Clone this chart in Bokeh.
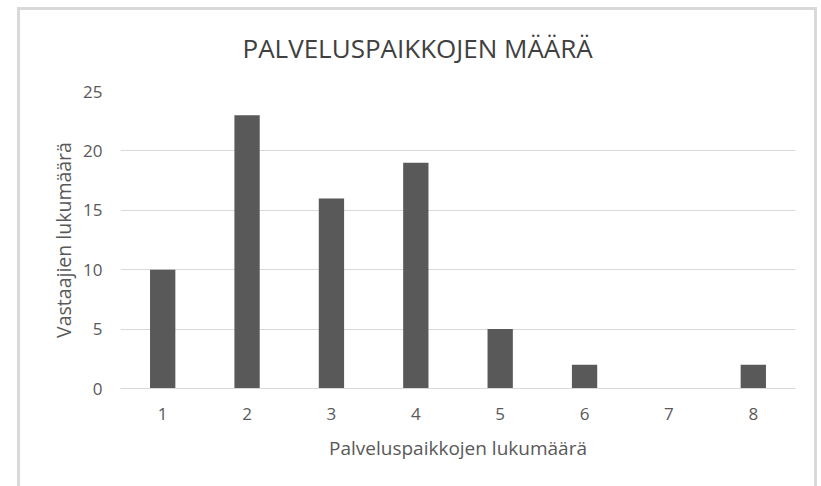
from bokeh.plotting import figure
from bokeh.models import Title
from bokeh.embed import file_html
from bokeh.resources import INLINE

categories = ["1", "2", "3", "4", "5", "6", "7", "8"]
counts = [10, 23, 16, 19, 5, 2, 0, 2]
y_ticks = [0, 5, 10, 15, 20, 25]
title_text = "PALVELUSPAIKKOJEN MÄÄRÄ"
x_label = "Palveluspaikkojen lukumäärä"
y_label = "Vastaajien lukumäärä"

FONT = "Open Sans"
TXT = "#595959"
FRAME_LINE = "linear-gradient(#d9d9d9,#d9d9d9)"

p = figure(
    width=817, height=486,
    x_range=categories, y_range=(0, 25),
    output_backend="svg", toolbar_location=None,
    min_border_left=120, min_border_right=22,
    min_border_top=91, min_border_bottom=98,
    background_fill_color="white", border_fill_color=None,
)
p.outline_line_color = None
# Excel-style chart-area frame drawn behind the canvas
p.styles = {
    "background": (
        f"{FRAME_LINE} 17px 7px / 3px 479px no-repeat, "
        f"{FRAME_LINE} 17px 7px / 800px 3px no-repeat, "
        f"{FRAME_LINE} 814px 7px / 3px 479px no-repeat, white"
    ),
}

p.vbar(x=categories, top=counts, width=0.3, color="#595959", line_color=None)

t = Title(text=title_text, align="left", offset=122, text_font=FONT,
          text_font_size="26px", text_font_style="normal",
          text_color="#404040", standoff=52)
p.add_layout(t, "above")

# axes
p.yaxis.ticker = y_ticks
p.yaxis.axis_line_color = None
p.yaxis.major_tick_line_color = None
p.yaxis.minor_tick_line_color = None
p.yaxis.major_label_text_font = FONT
p.yaxis.major_label_text_font_size = "17px"
p.yaxis.major_label_text_color = TXT
p.yaxis.major_label_standoff = 12
p.yaxis.axis_label = y_label
p.yaxis.axis_label_text_font = FONT
p.yaxis.axis_label_text_font_size = "19.5px"
p.yaxis.axis_label_text_font_style = "normal"
p.yaxis.axis_label_text_color = TXT
p.yaxis.axis_label_standoff = 3

p.xaxis.axis_line_color = "#d9d9d9"
p.xaxis.major_tick_line_color = None
p.xaxis.minor_tick_line_color = None
p.xaxis.major_label_text_font = FONT
p.xaxis.major_label_text_font_size = "17px"
p.xaxis.major_label_text_color = TXT
p.xaxis.major_label_standoff = 13
p.xaxis.axis_label = x_label
p.xaxis.axis_label_text_font = FONT
p.xaxis.axis_label_text_font_size = "19px"
p.xaxis.axis_label_text_font_style = "normal"
p.xaxis.axis_label_text_color = TXT
p.xaxis.axis_label_standoff = 12

p.xgrid.grid_line_color = None
p.ygrid.grid_line_color = "#d9d9d9"
p.ygrid.grid_line_width = 1

open("out.html", "w").write(file_html(p, INLINE))
